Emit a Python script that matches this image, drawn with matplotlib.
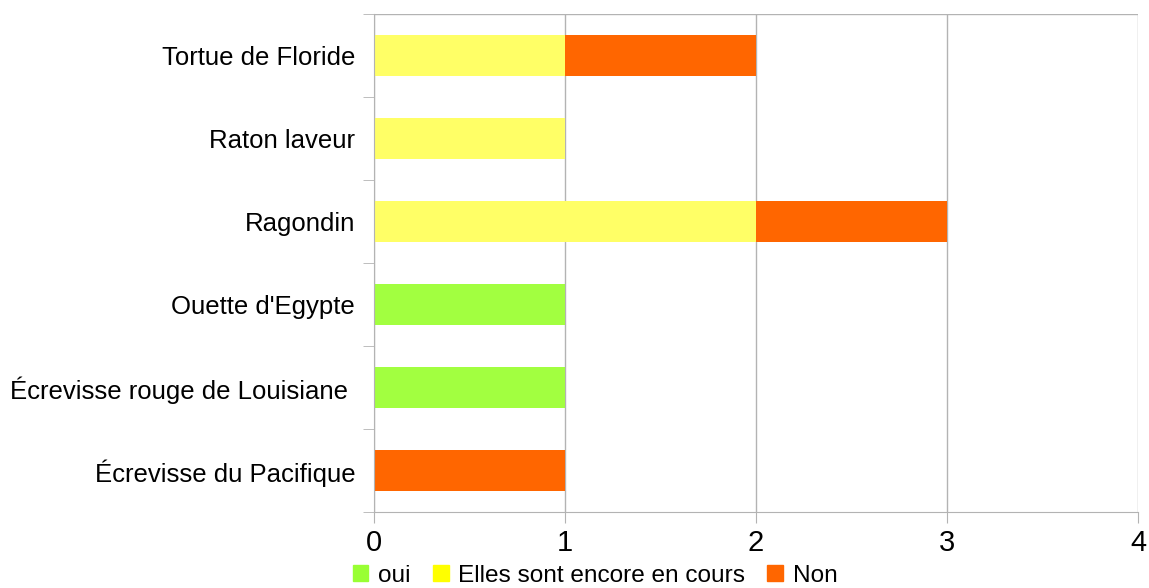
import matplotlib.pyplot as plt
import numpy as np
from matplotlib.patches import Patch

plt.rcParams['font.family'] = ['Liberation Sans', 'DejaVu Sans']

# categories from bottom to top
species = ['Écrevisse du Pacifique', 'Écrevisse rouge de Louisiane ', "Ouette d'Egypte",
           'Ragondin', 'Raton laveur', 'Tortue de Floride']
oui = [0, 1, 1, 0, 0, 0]
en_cours = [0, 0, 0, 2, 1, 1]
non = [1, 0, 0, 1, 0, 1]
series_names = ['oui', 'Elles sont encore en cours', 'Non']

bar_colors = ['#a2ff40', '#ffff66', '#ff6600']
legend_colors = ['#99ff33', '#ffff00', '#ff6600']

fig = plt.figure(figsize=(11.49, 5.88), dpi=100)
ax = fig.add_axes([0.3255, 0.1293, 0.6649, 0.8469])

y = np.arange(len(species))
left = np.zeros(len(species))
for vals, col in zip([oui, en_cours, non], bar_colors):
    ax.barh(y, vals, left=left, height=0.5, color=col, zorder=2)
    left += np.array(vals)

ax.set_xlim(0, 4)
ax.set_ylim(-0.5, len(species) - 0.5)
ax.set_xticks(range(5))
ax.tick_params(axis='x', labelsize=21, length=8, color='#b3b3b3', pad=4)
ax.grid(axis='x', color='#b3b3b3', lw=1, zorder=0)

ax.set_yticks(y)
ax.set_yticklabels(species)
ax.set_yticks(np.arange(-0.5, len(species)), minor=True)
ax.tick_params(axis='y', which='major', length=0, labelsize=18.5, pad=13.5)
ax.tick_params(axis='y', which='minor', length=8, color='#b3b3b3')

for s in ['top', 'right']:
    ax.spines[s].set_visible(False)
for s in ['left', 'bottom']:
    ax.spines[s].set_color('#b3b3b3')
ax.axhline(len(species) - 0.5, color='#b3b3b3', lw=1)

handles = [Patch(color=c, label=n) for c, n in zip(legend_colors, series_names)]
fig.legend(handles=handles, loc='lower center', bbox_to_anchor=(0.518, -0.035), ncol=3,
           frameon=False, fontsize=17.6, handlelength=0.65, handleheight=0.65,
           handletextpad=0.4, columnspacing=0.9)

fig.savefig('out.png', dpi=100)
